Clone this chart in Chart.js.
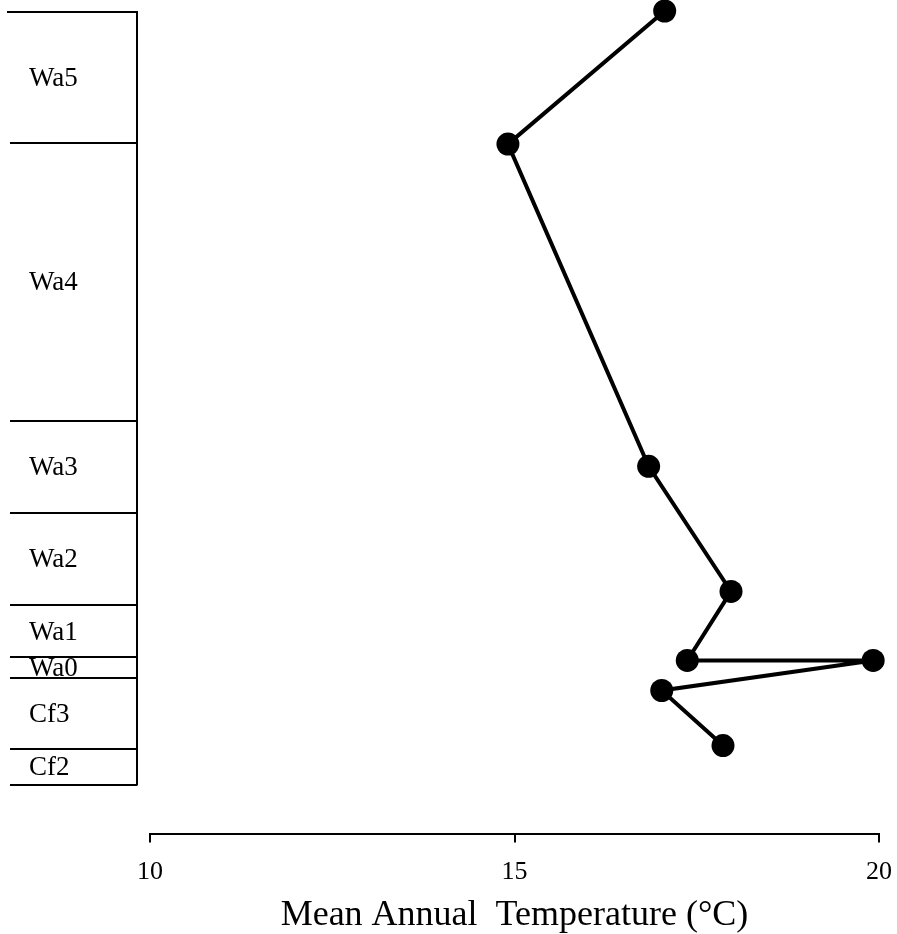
<!DOCTYPE html>
<html>
<head>
<meta charset="utf-8">
<script src="https://cdn.jsdelivr.net/npm/chart.js@4.4.1/dist/chart.umd.min.js"></script>
<style>
    html, body { margin: 0; padding: 0; background: #fff; }
    #wrap { width: 897px; height: 934px; position: relative; }
</style>
</head>
<body>
<div id="wrap"><canvas id="tempChart"></canvas></div>
<script>
// stratigraphic height (arbitrary m above base) vs mean annual temperature
const temperature = [17.06, 14.91, 16.84, 17.97, 17.37, 19.92, 17.02, 17.86];
const height = [77.3, 64.0, 31.8, 19.3, 12.4, 12.4, 9.4, 3.9];

// zone column: boundaries from top to bottom, labels between them
const zoneBounds = [77.2, 64.1, 36.3, 27.1, 17.9, 12.7, 10.6, 3.6, 0];
const zoneNames = ["Wa5", "Wa4", "Wa3", "Wa2", "Wa1", "Wa0", "Cf3", "Cf2"];

const xTicks = [10, 15, 20];

const FONT = "'Liberation Serif', 'Times New Roman', serif";

const zoneColumn = {
    id: "zoneColumn",
    afterDraw(chart) {
        const ctx = chart.ctx;
        const y = chart.scales.y;
        const right = 137;
        ctx.save();
        ctx.strokeStyle = "#000";
        ctx.lineWidth = 2;
        ctx.beginPath();
        zoneBounds.forEach((b, i) => {
            const py = Math.round(y.getPixelForValue(b));
            ctx.moveTo(i === 0 ? 7 : 10, py);
            ctx.lineTo(right, py);
        });
        ctx.moveTo(right, y.getPixelForValue(zoneBounds[0]) - 1);
        ctx.lineTo(right, y.getPixelForValue(zoneBounds[zoneBounds.length - 1]) + 1);
        ctx.stroke();

        ctx.fillStyle = "#000";
        ctx.font = "27px " + FONT;
        ctx.textBaseline = "middle";
        ctx.textAlign = "left";
        zoneNames.forEach((name, i) => {
            const mid = (y.getPixelForValue(zoneBounds[i]) + y.getPixelForValue(zoneBounds[i + 1])) / 2;
            ctx.fillText(name, 29, mid + 1);
        });
        ctx.restore();
    },
};

new Chart(document.getElementById("tempChart"), {
    type: "scatter",
    data: {
        datasets: [{
            data: temperature.map((t, i) => ({ x: t, y: height[i] })),
            showLine: true,
            clip: false,
            borderColor: "#000",
            borderWidth: 4,
            backgroundColor: "#000",
            pointRadius: 11.5,
            pointHoverRadius: 11.5,
            pointBorderWidth: 0,
        }],
    },
    options: {
        responsive: true,
        maintainAspectRatio: false,
        animation: false,
        events: [],
        layout: { autoPadding: false, padding: { left: 150, right: 18, top: 2, bottom: 0 } },
        plugins: { legend: { display: false }, tooltip: { enabled: false } },
        scales: {
            x: {
                type: "linear",
                min: 10,
                max: 20,
                afterBuildTicks: (scale) => { scale.ticks = xTicks.map(v => ({ value: v })); },
                afterFit: (scale) => { scale.paddingLeft = 0; scale.paddingRight = 0; },
                border: { display: true, color: "#000", width: 2 },
                grid: { drawOnChartArea: false, color: "#000", lineWidth: 2, tickLength: 9 },
                ticks: { color: "#000", font: { family: FONT, size: 26 }, padding: 14, maxRotation: 0 },
                title: {
                    display: true,
                    text: "Mean Annual  Temperature (\u00B0C)",
                    color: "#000",
                    font: { family: FONT, size: 36 },
                    padding: { top: -8, bottom: -3 },
                },
            },
            y: {
                type: "linear",
                display: false,
                min: -4.9,
                max: 78.2,
            },
        },
    },
    plugins: [zoneColumn],
});
</script>
</body>
</html>
